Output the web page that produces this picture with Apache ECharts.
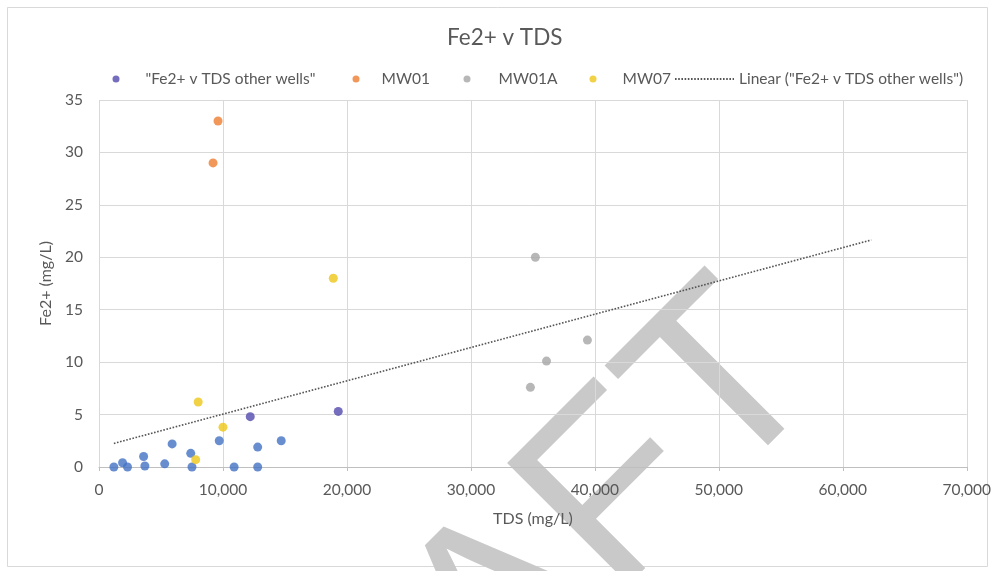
<!DOCTYPE html>
<html>
<head>
<meta charset="utf-8">
<script src="https://cdn.jsdelivr.net/npm/echarts@6/dist/echarts.min.js"></script>
<style>
  html, body { margin: 0; padding: 0; background: #ffffff; }
  #chart { width: 994px; height: 571px; }
</style>
</head>
<body>
<div id="chart"></div>
<script>
// Fe2+ against total dissolved solids, per well group
const chartTitle = 'Fe2+ v TDS';
const xAxisName = 'TDS (mg/L)';
const yAxisName = 'Fe2+ (mg/L)';

const seriesNames = ['"Fe2+ v TDS other wells"', 'MW01', 'MW01A', 'MW07', 'Linear ("Fe2+ v TDS other wells")'];

// other wells (blue markers)
const otherWellsTds = [1200, 1900, 2300, 3600, 3700, 5300, 5900, 7400, 7500, 9700, 10900, 12800, 12800, 14700];
const otherWellsFe  = [0, 0.4, 0, 1.0, 0.1, 0.3, 2.2, 1.3, 0, 2.5, 0, 1.9, 0, 2.5];
// other wells (purple markers)
const otherWellsTdsB = [12200, 19300];
const otherWellsFeB  = [4.8, 5.3];

const mw01Tds = [9600, 9200];
const mw01Fe  = [33, 29];

const mw01aTds = [35200, 39400, 36100, 34800];
const mw01aFe  = [20, 12.1, 10.1, 7.6];

const mw07Tds = [8000, 10000, 7800, 18900];
const mw07Fe  = [6.2, 3.8, 0.7, 18];

// trend line end points
const trendTds = [1200, 62300];
const trendFe  = [2.25, 21.65];

const xMin = 0, xMax = 70000, xStep = 10000;
const yMin = 0, yMax = 35, yStep = 5;

const pairs = (xs, ys) => xs.map((x, i) => [x, ys[i]]);

const FONT = 'Lato, "Open Sans", sans-serif';
const TEXT = '#595959';
const GRID = '#d9d9d9';

const colors = {
  blue: '#4472C4',
  purple: '#5349ac',
  orange: '#ED7D31',
  gray: '#A5A5A5',
  yellow: '#EDC516',
  trend: '#555555'
};

const chart = echarts.init(document.getElementById('chart'), null, { renderer: 'canvas' });

function legendAt(item, left, width) {
  return {
    data: [item],
    left: left,
    top: 71,
    itemWidth: width,
    itemHeight: 7,
    itemGap: 0,
    padding: 0,
    selectedMode: false,
    textStyle: { color: TEXT, fontSize: 15.5, fontFamily: FONT }
  };
}

const option = {
  backgroundColor: '#ffffff',
  animation: false,
  title: {
    text: chartTitle,
    left: 447,
    top: 26,
    padding: 0,
    textStyle: { color: TEXT, fontSize: 22.5, fontWeight: 'normal', fontFamily: FONT }
  },
  legend: [
    legendAt({ name: seriesNames[0], icon: 'circle' }, 112.5, 49),
    legendAt({ name: seriesNames[1], icon: 'circle' }, 352.5, 41),
    legendAt({ name: seriesNames[2], icon: 'circle' }, 463.5, 53),
    legendAt({ name: seriesNames[3], icon: 'circle' }, 589.5, 49),
    legendAt({ name: seriesNames[4], itemStyle: { opacity: 0 } }, 674, 59)
  ],
  grid: { left: 99, right: 27, top: 100, bottom: 104, containLabel: false },
  xAxis: {
    type: 'value',
    min: xMin, max: xMax, interval: xStep,
    name: xAxisName,
    nameLocation: 'middle',
    nameGap: 44,
    nameTextStyle: { color: TEXT, fontSize: 16, fontFamily: FONT },
    axisLine: { show: true, lineStyle: { color: '#bfbfbf', width: 1 } },
    axisTick: { show: true, length: 4, lineStyle: { color: '#bfbfbf' } },
    axisLabel: {
      color: TEXT, fontSize: 15.5, fontFamily: FONT, margin: 15,
      formatter: v => v.toLocaleString('en-US')
    },
    splitLine: { show: true, lineStyle: { color: GRID, width: 1 } }
  },
  yAxis: {
    type: 'value',
    min: yMin, max: yMax, interval: yStep,
    name: yAxisName,
    nameLocation: 'middle',
    nameGap: 38,
    nameTextStyle: { color: TEXT, fontSize: 16, fontFamily: FONT },
    axisLine: { show: false },
    axisTick: { show: false },
    axisLabel: { color: TEXT, fontSize: 15.5, fontFamily: FONT, margin: 16 },
    splitLine: { show: true, lineStyle: { color: GRID, width: 1 } }
  },
  graphic: [
    {
      type: 'rect',
      z: -2,
      shape: { x: 7.5, y: 7.5, width: 980, height: 559 },
      style: { fill: 'none', stroke: '#d9d9d9', lineWidth: 1 }
    },
    {
      type: 'text',
      z: -1,
      x: 104, y: 835,
      rotation: Math.PI / 4,
      style: {
        text: 'DRAFT',
        fontSize: 250,
        fontFamily: '"Liberation Sans", Arial, sans-serif',
        fill: '#c9c9c9',
        align: 'left',
        verticalAlign: 'top'
      }
    }
  ],
  series: [
    {
      name: 'Fe2+ v TDS wells',
      type: 'scatter',
      symbolSize: 9,
      itemStyle: { color: colors.blue },
      data: pairs(otherWellsTds, otherWellsFe),
      z: 3
    },
    {
      name: seriesNames[0],
      type: 'scatter',
      symbolSize: 9,
      itemStyle: { color: colors.purple },
      data: pairs(otherWellsTdsB, otherWellsFeB),
      z: 3
    },
    {
      name: seriesNames[1],
      type: 'scatter',
      symbolSize: 9,
      itemStyle: { color: colors.orange },
      data: pairs(mw01Tds, mw01Fe),
      z: 3
    },
    {
      name: seriesNames[2],
      type: 'scatter',
      symbolSize: 9,
      itemStyle: { color: colors.gray },
      data: pairs(mw01aTds, mw01aFe),
      z: 3
    },
    {
      name: seriesNames[3],
      type: 'scatter',
      symbolSize: 9,
      itemStyle: { color: colors.yellow },
      data: pairs(mw07Tds, mw07Fe),
      z: 3
    },
    {
      name: seriesNames[4],
      type: 'line',
      symbol: 'none',
      silent: true,
      itemStyle: { color: colors.trend },
      lineStyle: { color: colors.trend, width: 1.6, type: [1.6, 1.6] },
      data: pairs(trendTds, trendFe),
      z: 2
    }
  ]
};

chart.setOption(option);
</script>
</body>
</html>
